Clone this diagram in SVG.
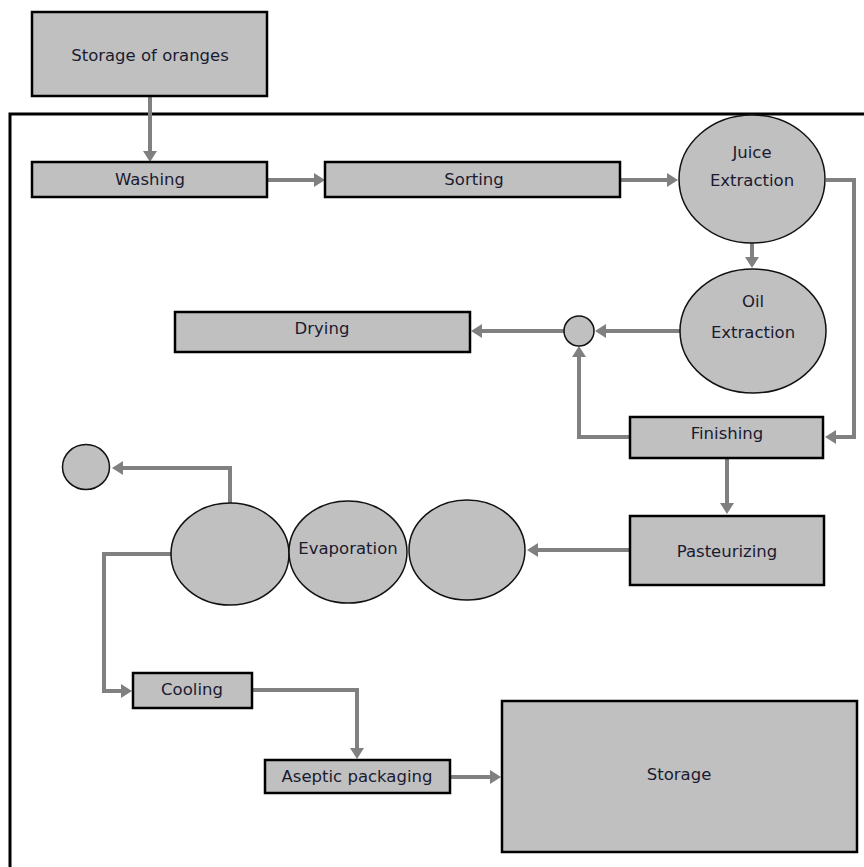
<svg xmlns="http://www.w3.org/2000/svg" width="864" height="867" viewBox="0 0 864 867">
  <style>
    .box { fill: #c0c0c0; stroke: #000; stroke-width: 2.5; }
    .vessel { fill: #c0c0c0; stroke: #111; stroke-width: 1.5; }
    .label { font-family: "DejaVu Sans", "Liberation Sans", sans-serif; font-size: 16.5px; fill: #1a1a30; text-anchor: middle; dominant-baseline: central; }
    .flow { fill: none; stroke: #808080; stroke-width: 4; marker-end: url(#head); }
    .frame { fill: none; stroke: #000; stroke-width: 3; }
  </style>
  <defs>
    <marker id="head" markerUnits="userSpaceOnUse" markerWidth="12" markerHeight="14" refX="0" refY="7" orient="auto">
      <path d="M0,0 L11,7 L0,14 z" fill="#808080"/>
    </marker>
  </defs>
  <rect width="864" height="867" fill="#fff"/>

  <!-- plant boundary -->
  <path class="frame" d="M10,867 V114 H864"/>

  <!-- process flow -->
  <g id="connectors">
    <path class="flow" d="M150,96 V151"/>
    <path class="flow" d="M268,180 H314"/>
    <path class="flow" d="M621,180 H667"/>
    <path class="flow" d="M752,243 V257"/>
    <path class="flow" d="M826,180 H854 V437 H836"/>
    <path class="flow" d="M680,331 H606"/>
    <path class="flow" d="M564,331 H482"/>
    <path class="flow" d="M630,437 H579 V357"/>
    <path class="flow" d="M727,458 V503"/>
    <path class="flow" d="M630,550 H538"/>
    <path class="flow" d="M230,503 V468 H123"/>
    <path class="flow" d="M171,554 H104 V691 H121"/>
    <path class="flow" d="M252,690 H357 V748"/>
    <path class="flow" d="M450,777 H490"/>
  </g>

  <g id="storage-of-oranges">
    <rect class="box" x="32" y="12" width="235" height="84"/>
    <text class="label" x="150" y="55">Storage of oranges</text>
  </g>
  <g id="washing">
    <rect class="box" x="32" y="162" width="235" height="35"/>
    <text class="label" x="150" y="179">Washing</text>
  </g>
  <g id="sorting">
    <rect class="box" x="325" y="162" width="295" height="35"/>
    <text class="label" x="474" y="179">Sorting</text>
  </g>
  <g id="juice-extraction">
    <ellipse class="vessel" cx="752" cy="179" rx="73" ry="64"/>
    <text class="label" x="752" y="152">Juice</text>
    <text class="label" x="752" y="180">Extraction</text>
  </g>
  <g id="oil-extraction">
    <ellipse class="vessel" cx="753" cy="331" rx="73" ry="62"/>
    <text class="label" x="753" y="301">Oil</text>
    <text class="label" x="753" y="332">Extraction</text>
  </g>
  <g id="oil-junction">
    <circle class="vessel" cx="579" cy="331" r="15"/>
  </g>
  <g id="drying">
    <rect class="box" x="175" y="312" width="295" height="40"/>
    <text class="label" x="322" y="328">Drying</text>
  </g>
  <g id="finishing">
    <rect class="box" x="630" y="417" width="193" height="41"/>
    <text class="label" x="727" y="433">Finishing</text>
  </g>
  <g id="pasteurizing">
    <rect class="box" x="630" y="516" width="194" height="69"/>
    <text class="label" x="727" y="551">Pasteurizing</text>
  </g>
  <g id="evaporation">
    <ellipse class="vessel" cx="230" cy="554" rx="59" ry="51"/>
    <ellipse class="vessel" cx="348" cy="552" rx="59" ry="51"/>
    <ellipse class="vessel" cx="467" cy="550" rx="58" ry="50"/>
    <text class="label" x="348" y="548">Evaporation</text>
  </g>
  <g id="vapour-outlet">
    <ellipse class="vessel" cx="86" cy="467" rx="23.5" ry="22.5"/>
  </g>
  <g id="cooling">
    <rect class="box" x="133" y="673" width="119" height="35"/>
    <text class="label" x="192" y="689">Cooling</text>
  </g>
  <g id="aseptic-packaging">
    <rect class="box" x="265" y="760" width="185" height="33"/>
    <text class="label" x="357" y="776">Aseptic packaging</text>
  </g>
  <g id="storage">
    <rect class="box" x="502" y="701" width="355" height="151"/>
    <text class="label" x="679" y="774">Storage</text>
  </g>
</svg>
